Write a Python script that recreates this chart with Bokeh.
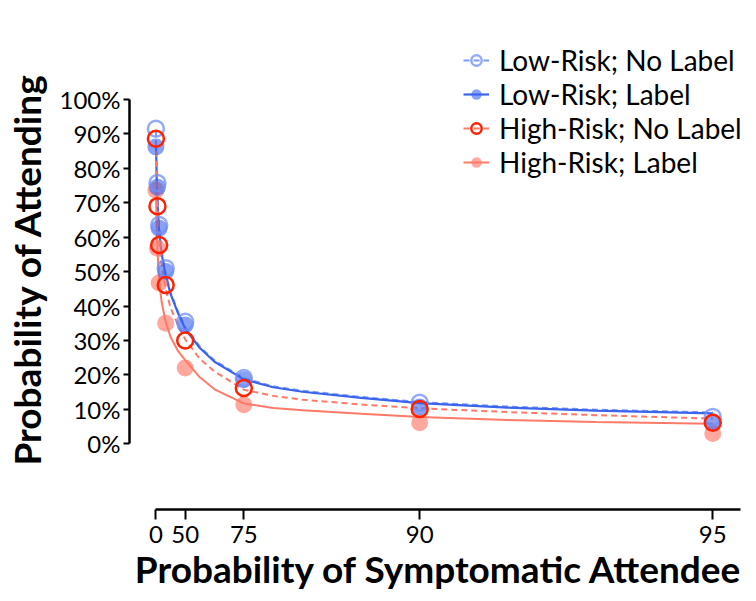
from bokeh.plotting import figure
from bokeh.models import FixedTicker, NumeralTickFormatter, Legend, LegendItem, Range1d
from bokeh.embed import file_html
from bokeh.resources import INLINE

# Probability of symptomatic attendee (%) for each condition
prob = [0, 5, 10, 25, 50, 75, 90, 95]
lr_nolabel = [0.915, 0.757, 0.635, 0.51, 0.354, 0.191, 0.119, 0.078]
lr_label = [0.862, 0.745, 0.626, 0.50, 0.345, 0.186, 0.107, 0.064]
hr_nolabel = [0.886, 0.690, 0.577, 0.461, 0.300, 0.162, 0.101, 0.061]
hr_label = [0.736, 0.568, 0.467, 0.350, 0.220, 0.113, 0.061, 0.030]

# fitted curves, x in odds of symptomatic attendee
curve_odds = [0, 0.03, 0.06, 0.1, 0.15, 0.2, 0.33, 0.5, 0.75, 1, 1.5, 2, 3, 4, 5, 7, 9, 12, 15, 19]
fit_lr_label = [0.88, 0.76, 0.69, 0.63, 0.585, 0.55, 0.49, 0.435, 0.38, 0.334, 0.278, 0.238, 0.187, 0.164, 0.151, 0.133, 0.118, 0.105, 0.096, 0.088]
fit_lr_nolabel = [0.91, 0.77, 0.70, 0.64, 0.592, 0.557, 0.495, 0.44, 0.385, 0.338, 0.282, 0.242, 0.19, 0.167, 0.154, 0.136, 0.121, 0.108, 0.099, 0.091]
fit_hr_nolabel = [0.88, 0.74, 0.67, 0.60, 0.55, 0.515, 0.45, 0.395, 0.345, 0.303, 0.246, 0.21, 0.157, 0.139, 0.128, 0.114, 0.103, 0.092, 0.083, 0.073]
fit_hr_label = [0.74, 0.61, 0.55, 0.49, 0.445, 0.41, 0.355, 0.31, 0.27, 0.243, 0.193, 0.158, 0.117, 0.104, 0.097, 0.087, 0.078, 0.069, 0.063, 0.058]

tick_probs = [0, 50, 75, 90, 95]
y_ticks = [0, 0.1, 0.2, 0.3, 0.4, 0.5, 0.6, 0.7, 0.8, 0.9, 1.0]
x_title = "Probability of Symptomatic Attendee"
y_title = "Probability of Attending"

def to_odds(v):
    return v / (100 - v)

odds = [to_odds(v) for v in prob]
tick_odds = [to_odds(v) for v in tick_probs]

FONT = "Lato"
BLUE = "#3a63ee"
BLUE_L = "#6f8ff5"
RED = "#ff2200"
SALMON = "#ff7a68"

p = figure(width=748, height=593, output_backend="svg", toolbar_location=None,
           x_range=Range1d(-0.901, 20.22), y_range=Range1d(-0.191, 1.206),
           min_border_left=127, min_border_right=0, min_border_top=28, min_border_bottom=81)
p.grid.visible = False
p.outline_line_color = None

# curves
l_lr_nl = p.line(curve_odds, fit_lr_nolabel, line_color=BLUE_L, line_width=2, line_dash="6 4", line_alpha=0.9)
l_lr_l = p.line(curve_odds, fit_lr_label, line_color=BLUE, line_width=2.2)
l_hr_nl = p.line(curve_odds, fit_hr_nolabel, line_color=SALMON, line_width=2, line_dash="6 4")
l_hr_l = p.line(curve_odds, fit_hr_label, line_color=SALMON, line_width=2)

# points
s_hr_l = p.scatter(odds, hr_label, size=17, fill_color=SALMON, fill_alpha=0.65, line_color=None)
s_lr_l = p.scatter(odds, lr_label, size=17, fill_color=BLUE, fill_alpha=0.6, line_color=None)
s_lr_nl = p.scatter(odds, lr_nolabel, size=16, fill_color=None, line_color=BLUE_L, line_width=2.5, line_alpha=0.75)
s_hr_nl = p.scatter(odds, hr_nolabel, size=16, fill_color=None, line_color=RED, line_width=2.5)

legend = Legend(items=[
    LegendItem(label="Low-Risk; No Label", renderers=[s_lr_nl, l_lr_nl]),
    LegendItem(label="Low-Risk; Label", renderers=[s_lr_l, l_lr_l]),
    LegendItem(label="High-Risk; No Label", renderers=[s_hr_nl, l_hr_nl]),
    LegendItem(label="High-Risk; Label", renderers=[s_hr_l, l_hr_l]),
], location=(334, 330))
legend.label_text_font = FONT
legend.label_text_font_size = "28px"
legend.label_text_color = "black"
legend.glyph_width = 26
legend.glyph_height = 30
legend.label_standoff = 10
legend.spacing = 0
legend.padding = 0
legend.margin = 0
legend.border_line_color = None
legend.background_fill_alpha = 0
p.add_layout(legend)

# axes
xa = p.xaxis[0]
xa.ticker = FixedTicker(ticks=tick_odds)
xa.major_label_overrides = {t: str(v) for t, v in zip(tick_odds, tick_probs)}
xa.bounds = (0, 19.95)
xa.axis_label = x_title
xa.axis_label_text_font = FONT
xa.axis_label_text_font_style = "bold"
xa.axis_label_text_font_size = "37px"
xa.axis_label_text_color = "black"
xa.axis_label_text_line_height = 0.9
xa.axis_label_standoff = 0
xa.major_label_text_font = FONT
xa.major_label_text_font_size = "24px"
xa.major_label_text_color = "black"
xa.major_label_text_line_height = 0.9
xa.major_label_standoff = 6
xa.axis_line_width = 2.5
xa.major_tick_line_width = 2
xa.major_tick_out = 10
xa.major_tick_in = 0
xa.minor_tick_out = 0
xa.minor_tick_in = 0

ya = p.yaxis[0]
ya.ticker = FixedTicker(ticks=y_ticks)
ya.formatter = NumeralTickFormatter(format="0%")
ya.bounds = (0, 1)
ya.axis_label = y_title
ya.axis_label_text_font = FONT
ya.axis_label_text_font_style = "bold"
ya.axis_label_text_font_size = "37px"
ya.axis_label_text_color = "black"
ya.axis_label_standoff = 8
ya.major_label_text_font = FONT
ya.major_label_text_font_size = "24px"
ya.major_label_text_color = "black"
ya.major_label_standoff = 3
ya.axis_line_width = 2.5
ya.major_tick_line_width = 2
ya.major_tick_out = 6
ya.major_tick_in = 0
ya.minor_tick_out = 0
ya.minor_tick_in = 0

open("out.html", "w").write(file_html(p, INLINE))
